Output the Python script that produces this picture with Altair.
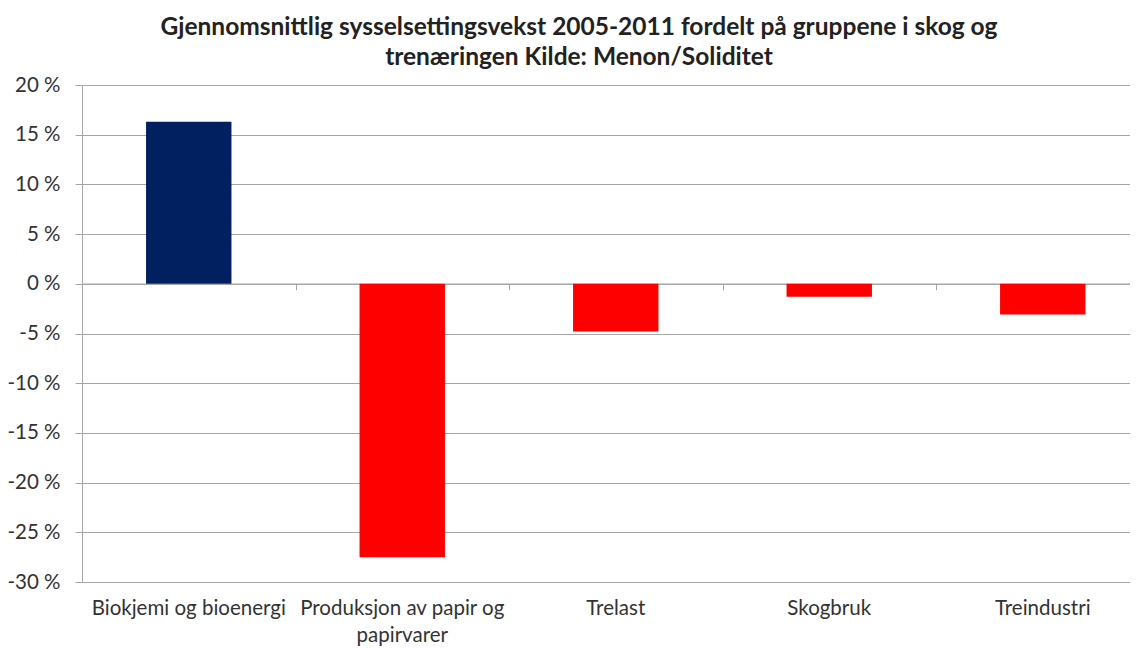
import altair as alt
import pandas as pd

categories = ["Biokjemi og bioenergi", "Produksjon av papir og|papirvarer", "Trelast", "Skogbruk", "Treindustri"]
values = [16.3, -27.5, -4.8, -1.3, -3.1]
colors = ["#002060", "#FF0000", "#FF0000", "#FF0000", "#FF0000"]
y_ticks = [-30, -25, -20, -15, -10, -5, 0, 5, 10, 15, 20]
title_lines = ["Gjennomsnittlig sysselsettingsvekst 2005-2011 fordelt på gruppene i skog og",
               "trenæringen Kilde: Menon/Soliditet"]

df = pd.DataFrame({"cat": categories, "val": values, "col": colors})

W = 1048
H = 497
FONT = "Lato"
GRID = "#A6A6A6"
TXT = "#333333"

yaxis = alt.Axis(values=y_ticks, grid=True, gridColor=GRID, gridWidth=1,
                 domain=True, domainColor=GRID, ticks=True, tickColor=GRID,
                 tickSize=7, labelPadding=15, labelFontSize=20.5, labelFont=FONT,
                 labelColor=TXT, labelExpr="datum.value + ' %'")
yscale = alt.Scale(domain=[-30, 20], nice=False, zero=False)

bars = alt.Chart(df).mark_bar().encode(
    x=alt.X("cat:N", sort=categories, title=None,
            scale=alt.Scale(domain=categories, range=[0, 1067.5], paddingInner=0.6, paddingOuter=0.3),
            axis=alt.Axis(orient="bottom", domain=False, ticks=False, grid=False,
                          labelAngle=0, labelFontSize=20.5, labelFont=FONT, labelColor=TXT,
                          labelPadding=16, labelLimit=400, labelLineHeight=27,
                          labelExpr="split(datum.label, '|')")),
    y=alt.Y("val:Q", scale=yscale, title=None, axis=yaxis),
    color=alt.Color("col:N", scale=None),
)

zero_axis = alt.Chart(df).mark_bar(opacity=0).encode(
    x=alt.X("cat:N", sort=categories, title=None,
            scale=alt.Scale(domain=categories, range=[0, 1067.5], paddingInner=0, paddingOuter=0),
            axis=alt.Axis(orient="bottom", offset=-(H * 0.6), labels=False, domain=True,
                          domainColor=GRID, domainWidth=1.5, ticks=True, tickColor=GRID, tickSize=6,
                          tickBand="extent", grid=False)),
    y=alt.Y("val:Q", scale=yscale, title=None, axis=yaxis),
)

chart = alt.layer(bars, zero_axis).resolve_scale(x="independent").resolve_axis(x="independent").properties(
    width=W, height=H,
    title=alt.TitleParams(text=title_lines, fontSize=24.5, font=FONT, fontWeight="bold",
                          color="#222222", lineHeight=30, offset=5, anchor="middle", dx=-27),
    autosize=alt.AutoSizeParams(type="none"),
    padding={"left": 74, "top": 77, "right": 0, "bottom": 66},
).configure_view(stroke=None)

chart.save("out.html", embed_options={"renderer": "svg", "actions": False})
